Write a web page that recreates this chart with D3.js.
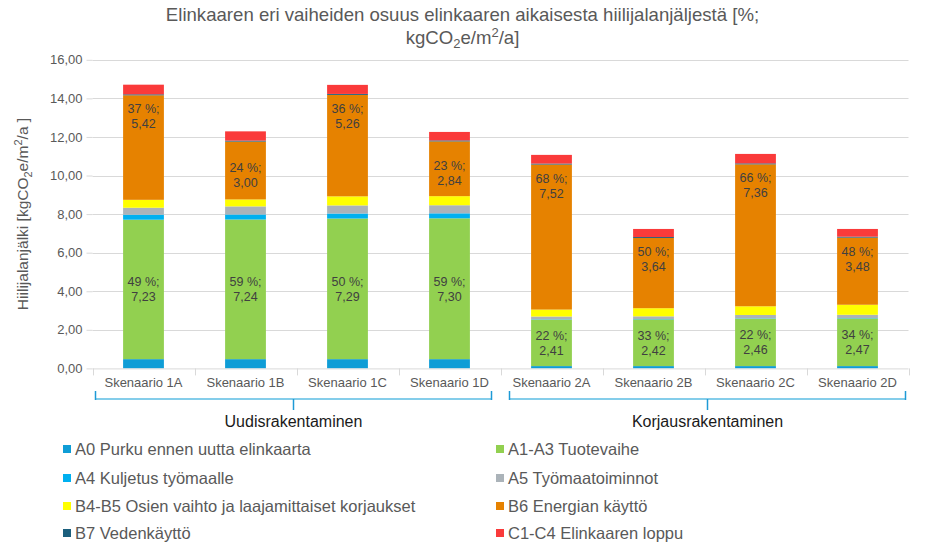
<!DOCTYPE html>
<html><head><meta charset="utf-8">
<script src="https://cdn.jsdelivr.net/npm/d3@7"></script>
<style>body{margin:0;background:#fff;} svg{display:block;font-family:"Liberation Sans",Arial,sans-serif;}</style>
</head><body>
<svg id="c" width="925" height="547"></svg>
<script>
const categories = ["Skenaario 1A","Skenaario 1B","Skenaario 1C","Skenaario 1D","Skenaario 2A","Skenaario 2B","Skenaario 2C","Skenaario 2D"];
const groups = ["Uudisrakentaminen","Korjausrakentaminen"];
const groupOf = [0,0,0,0,1,1,1,1];
const seriesNames = ["A0 Purku ennen uutta elinkaarta","A1-A3 Tuotevaihe","A4 Kuljetus työmaalle","A5 Työmaatoiminnot","B4-B5 Osien vaihto ja laajamittaiset korjaukset","B6 Energian käyttö","B7 Vedenkäyttö","C1-C4 Elinkaaren loppu"];
const A0   = [0.48,0.48,0.48,0.48,0.12,0.12,0.12,0.12];
const A1A3 = [7.23,7.24,7.29,7.30,2.41,2.42,2.46,2.47];
const A4   = [0.26,0.26,0.26,0.26,0.02,0.02,0.02,0.02];
const A5   = [0.36,0.42,0.42,0.42,0.14,0.14,0.17,0.17];
const B4B5 = [0.41,0.36,0.47,0.47,0.36,0.42,0.45,0.52];
const B6   = [5.42,3.00,5.26,2.84,7.52,3.64,7.36,3.48];
const B7   = [0.05,0.05,0.05,0.05,0.05,0.05,0.05,0.05];
const C1C4 = [0.50,0.48,0.47,0.44,0.45,0.42,0.49,0.40];
const pctA1A3 = [49,59,50,59,22,33,22,34];
const pctB6   = [37,24,36,23,68,50,66,48];
const yTicks = [0,2,4,6,8,10,12,14,16];

const colors = ["#0f9dd6","#92d050","#00b0f0","#abb3b9","#ffff00","#e68200","#1b5f7d","#fa3a3a"];
const seriesVals = [A0,A1A3,A4,A5,B4B5,B6,B7,C1C4];
const b6LabelMode = ["end","center","end","center","end","end","end","end"];

const svg = d3.select("#c");
const pLeft = 92.5, pRight = 908.5, pTop = 59.8, pBottom = 368.4;
const x = d3.scaleBand().domain(categories).range([pLeft,pRight]).paddingInner(0.6).paddingOuter(0.3);
const xb = d3.scaleBand().domain(categories).range([pLeft,pRight]).padding(0);
const y = d3.scaleLinear().domain([0,16]).range([pBottom,pTop]);
const fmt = v => d3.format(".2f")(v).replace(".",",");

// gridlines
svg.append("g").selectAll("line").data(yTicks.filter(d=>d>0)).join("line")
  .attr("x1",pLeft).attr("x2",pRight).attr("y1",d=>Math.round(y(d))+0.5).attr("y2",d=>Math.round(y(d))+0.5)
  .attr("stroke","#d9d9d9").attr("stroke-width",1);
// y ticks (outside marks) and labels
const yAxis = d3.axisLeft(y).tickValues(yTicks).tickSize(6).tickPadding(4).tickFormat(fmt);
const gy = svg.append("g").attr("transform",`translate(${pLeft},0)`).call(yAxis);
gy.select(".domain").remove();
gy.selectAll(".tick line").attr("stroke","#d9d9d9");
gy.selectAll(".tick text").attr("fill","#595959").style("font-size","13px").style("font-family","'Liberation Sans',Arial,sans-serif");

// stacked bars
const rows = categories.map((c,i)=>{ const o={cat:c}; seriesNames.forEach((s,k)=>o[s]=seriesVals[k][i]); return o; });
const stack = d3.stack().keys(seriesNames)(rows);
svg.append("g").selectAll("g").data(stack).join("g").attr("fill",(d,i)=>colors[i])
  .selectAll("rect").data(d=>d).join("rect")
  .attr("x",d=>x(d.data.cat)).attr("width",x.bandwidth())
  .attr("y",d=>y(d[1])).attr("height",d=>y(d[0])-y(d[1]));

// x axis line and tick separators
svg.append("line").attr("x1",pLeft).attr("x2",pRight).attr("y1",pBottom+0.5).attr("y2",pBottom+0.5).attr("stroke","#d9d9d9");
const bounds = categories.map(c=>xb(c)).concat([pRight]);
svg.append("g").selectAll("line").data(bounds).join("line")
  .attr("x1",d=>Math.round(d)+0.5).attr("x2",d=>Math.round(d)+0.5).attr("y1",pBottom).attr("y2",pBottom+7)
  .attr("stroke","#d9d9d9");
// category labels
svg.append("g").selectAll("text").data(categories).join("text")
  .attr("x",d=>x(d)+x.bandwidth()/2).attr("y",387).attr("text-anchor","middle")
  .attr("fill","#595959").style("font-size","13px").text(d=>d);

// group brackets
groups.forEach((g,gi)=>{
  const cats = categories.filter((c,i)=>groupOf[i]===gi);
  const gx0 = xb(cats[0]), gx1 = xb(cats[cats.length-1]) + xb.bandwidth();
  const x0 = gx0 + (gx0<=pLeft+0.1 ? 3 : 9);
  const x1 = gx1 - (gx1>=pRight-0.1 ? 3 : 9);
  const cx = (x0+x1)/2;
  const gg = svg.append("g");
  gg.append("line").attr("x1",x0).attr("x2",x1).attr("y1",399).attr("y2",399).attr("stroke","#84cdea").attr("stroke-width",2);
  gg.append("line").attr("x1",x0).attr("x2",x0).attr("y1",391).attr("y2",400).attr("stroke","#1e9ad6").attr("stroke-width",1.5);
  gg.append("line").attr("x1",x1).attr("x2",x1).attr("y1",391).attr("y2",400).attr("stroke","#1e9ad6").attr("stroke-width",1.5);
  gg.append("line").attr("x1",cx).attr("x2",cx).attr("y1",399).attr("y2",410).attr("stroke","#1e9ad6").attr("stroke-width",1.5);
  gg.append("text").attr("x",cx).attr("y",427).attr("text-anchor","middle").attr("fill","#1a1a1a")
    .style("font-size","16px").text(g);
});

// data labels
function label(cx, cy, pct, val){
  const t = svg.append("text").attr("text-anchor","middle").attr("fill","#404040").style("font-size","12.5px");
  t.append("tspan").attr("x",cx).attr("y",cy).text(pct+" %;");
  t.append("tspan").attr("x",cx).attr("y",cy+15).text(fmt(val));
}
const sA = stack[1], sB6 = stack[5];
categories.forEach((c,i)=>{
  const cx = x(c)+x.bandwidth()/2;
  const gm = (y(sA[i][0])+y(sA[i][1]))/2;
  label(cx, gm-7.5+4.5, pctA1A3[i], A1A3[i]);
  let bc;
  if (b6LabelMode[i]==="end") bc = y(sB6[i][1]) + 13.5 + 4.5;
  else bc = (y(sB6[i][0])+y(sB6[i][1]))/2 - 7.5 + 4.5 + 4;
  label(cx, bc, pctB6[i], B6[i]);
});

// title
const title = svg.append("text").attr("text-anchor","middle").attr("fill","#595959").style("font-size","18.6px");
title.append("tspan").attr("x",462.5).attr("y",20.5).text("Elinkaaren eri vaiheiden osuus elinkaaren aikaisesta hiilijalanjäljestä [%;");
const t2 = title.append("tspan").attr("x",462.5).attr("y",43.5);
t2.append("tspan").text("kgCO");
t2.append("tspan").attr("dy",4).style("font-size","13px").text("2");
t2.append("tspan").attr("dy",-4).text("e/m");
t2.append("tspan").attr("dy",-7).style("font-size","13px").text("2");
t2.append("tspan").attr("dy",7).text("/a]");

// y-axis title
const yt = svg.append("text").attr("transform","translate(28,214) rotate(-90)").attr("text-anchor","middle")
  .attr("fill","#595959").style("font-size","15.5px");
yt.append("tspan").text("Hiilijalanjälki [kgCO");
yt.append("tspan").attr("dy",4).style("font-size","11px").text("2");
yt.append("tspan").attr("dy",-4).text("e/m");
yt.append("tspan").attr("dy",-6).style("font-size","11px").text("2");
yt.append("tspan").attr("dy",6).text("/a ]");

// legend
const legendOrder = [0,2,4,6,1,3,5,7];
const rowsY = [449,478,506,533];
legendOrder.forEach((k,j)=>{
  const col = Math.floor(j/4), row = j%4;
  const lx = col===0 ? 63 : 496;
  const g = svg.append("g");
  g.append("rect").attr("x",lx).attr("y",rowsY[row]-4).attr("width",8).attr("height",8).attr("fill",colors[k]);
  g.append("text").attr("x",lx+12).attr("y",rowsY[row]+5.5).attr("fill","#595959").style("font-size","16.5px").text(seriesNames[k]);
});
</script>
</body></html>
